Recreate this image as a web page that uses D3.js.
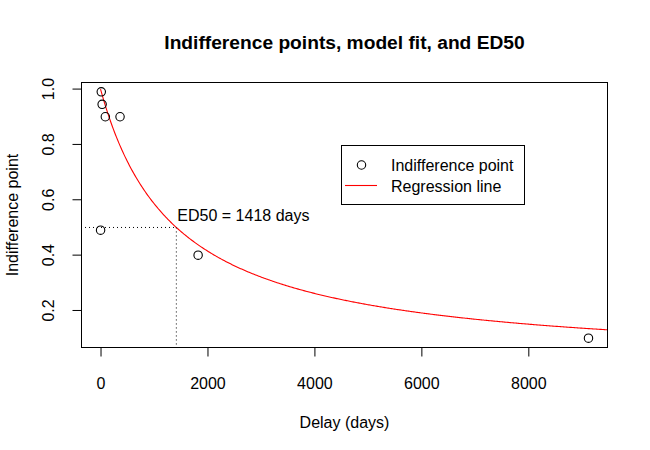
<!DOCTYPE html>
<html>
<head>
<meta charset="utf-8">
<script src="https://cdn.jsdelivr.net/npm/d3@7"></script>
<style>
  body { margin: 0; background: #fff; }
  text { font-family: "Liberation Sans", Arial, sans-serif; fill: #000; }
</style>
</head>
<body>
<script>
// indifference points
var delays = [1, 14, 30, 90, 365, 1825, 9125];
var indiff = [0.49, 0.99, 0.945, 0.90, 0.90, 0.40, 0.10];
var ed50 = 1418;
var xTicks = [0, 2000, 4000, 6000, 8000];
var yTicks = [0.2, 0.4, 0.6, 0.8, 1.0];
var legendLabels = ["Indifference point", "Regression line"];

var width = 650, height = 450;
var box = {left: 81, right: 608, top: 82, bottom: 348};

var svg = d3.select("body").append("svg").attr("width", width).attr("height", height);

// R style 4% padding around the data range
var xr = [0, d3.max(delays)], yr = d3.extent(indiff);
var xpad = (xr[1] - xr[0]) * 0.04, ypad = (yr[1] - yr[0]) * 0.04;

var x = d3.scaleLinear().domain([xr[0] - xpad, xr[1] + xpad]).range([box.left, box.right]);
var y = d3.scaleLinear().domain([yr[0] - ypad, yr[1] + ypad]).range([box.bottom, box.top]);

var clip = svg.append("defs").append("clipPath").attr("id", "clip")
  .append("rect")
  .attr("x", box.left).attr("y", box.top)
  .attr("width", box.right - box.left).attr("height", box.bottom - box.top);

// hyperbolic model fit: v = 1 / (1 + x/ED50)
var k = 1 / ed50;
var curveX = d3.range(0, x.domain()[1], 20).concat([x.domain()[1]]);
var line = d3.line()
  .x(function(d){ return x(d); })
  .y(function(d){ return y(1 / (1 + k * d)); });

svg.append("path").datum(curveX)
  .attr("clip-path", "url(#clip)")
  .attr("d", line)
  .attr("fill", "none").attr("stroke", "#ff0000").attr("stroke-width", 1.1);

// ED50 guides
svg.append("line")
  .attr("x1", box.left).attr("x2", x(ed50))
  .attr("y1", y(0.5)).attr("y2", y(0.5))
  .attr("stroke", "#000").attr("stroke-dasharray", "1,3");
svg.append("line")
  .attr("x1", x(ed50)).attr("x2", x(ed50))
  .attr("y1", y(0.5)).attr("y2", box.bottom)
  .attr("stroke", "#000").attr("stroke-dasharray", "1,3");

svg.append("text")
  .attr("x", x(ed50) + 1).attr("y", y(0.5) - 6)
  .attr("font-size", 16)
  .text("ED50 = " + ed50 + " days");

// points
svg.selectAll("circle.pt").data(delays).enter().append("circle")
  .attr("class", "pt")
  .attr("cx", function(d){ return x(d); })
  .attr("cy", function(d, i){ return y(indiff[i]); })
  .attr("r", 4.2)
  .attr("fill", "none").attr("stroke", "#000").attr("stroke-width", 1.1);

// box
svg.append("rect")
  .attr("x", box.left + 0.5).attr("y", box.top + 0.5)
  .attr("width", box.right - box.left - 1).attr("height", box.bottom - box.top - 1)
  .attr("fill", "none").attr("stroke", "#000").attr("stroke-width", 1);

// axes
var xAxis = d3.axisBottom(x).tickValues(xTicks).tickSize(9).tickPadding(21).tickFormat(d3.format("d"));
var gx = svg.append("g").attr("transform", "translate(0," + (box.bottom - 0.5) + ")").call(xAxis);
gx.select(".domain").remove();
gx.selectAll("text").attr("font-size", 16).attr("font-family", "Liberation Sans, Arial, sans-serif");

var yAxis = d3.axisLeft(y).tickValues(yTicks).tickSize(9).tickFormat(d3.format(".1f"));
var gy = svg.append("g").attr("transform", "translate(" + (box.left + 0.5) + ",0)").call(yAxis);
gy.select(".domain").remove();
gy.selectAll("text")
  .attr("font-size", 16).attr("font-family", "Liberation Sans, Arial, sans-serif")
  .attr("x", null).attr("dy", null)
  .attr("text-anchor", "middle")
  .attr("transform", function(d){ return "translate(-28," + y(d) + ") rotate(-90)"; })
  .attr("y", 0);
gy.selectAll(".tick").attr("transform", "translate(0,0)");
gy.selectAll(".tick line").attr("y1", function(d){ return y(d); }).attr("y2", function(d){ return y(d); });

// titles
svg.append("text")
  .attr("x", (box.left + box.right) / 2).attr("y", 49)
  .attr("text-anchor", "middle").attr("font-size", 19.2).attr("font-weight", "bold")
  .text("Indifference points, model fit, and ED50");
svg.append("text")
  .attr("x", (box.left + box.right) / 2).attr("y", 428)
  .attr("text-anchor", "middle").attr("font-size", 16)
  .text("Delay (days)");
svg.append("text")
  .attr("transform", "translate(18," + ((box.top + box.bottom) / 2) + ") rotate(-90)")
  .attr("text-anchor", "middle").attr("font-size", 16)
  .text("Indifference point");

// legend
var lg = svg.append("g");
lg.append("rect")
  .attr("x", 341.5).attr("y", 145.5).attr("width", 183).attr("height", 59)
  .attr("fill", "#fff").attr("stroke", "#000");
lg.append("circle").attr("cx", 361.5).attr("cy", 165).attr("r", 4.2)
  .attr("fill", "none").attr("stroke", "#000").attr("stroke-width", 1.1);
lg.append("line").attr("x1", 345).attr("x2", 377).attr("y1", 185.5).attr("y2", 185.5)
  .attr("stroke", "#ff0000").attr("stroke-width", 1.1);
lg.selectAll("text.lab").data(legendLabels).enter().append("text")
  .attr("class", "lab")
  .attr("x", 391).attr("y", function(d, i){ return 171 + i * 20.5; })
  .attr("font-size", 16)
  .text(function(d){ return d; });
</script>
</body>
</html>
